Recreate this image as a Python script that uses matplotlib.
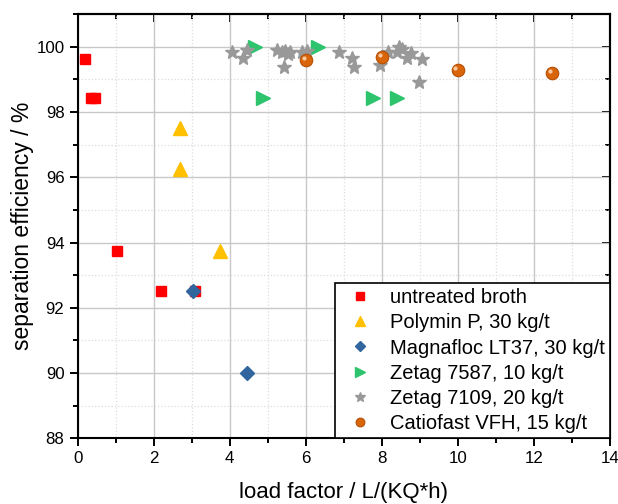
import matplotlib
matplotlib.use("Agg")
import matplotlib.pyplot as plt
from matplotlib.ticker import MultipleLocator
from matplotlib import transforms

plt.rcParams['font.family'] = ['Liberation Sans', 'DejaVu Sans']

# data
broth_x = [0.18, 0.35, 0.46, 1.03, 2.19, 3.09]
broth_y = [99.63, 98.44, 98.44, 93.73, 92.5, 92.5]

polymin_x = [2.69, 2.69, 3.74]
polymin_y = [97.52, 96.26, 93.75]

magna_x = [3.03, 4.45]
magna_y = [92.5, 90.0]

z7587_x = [4.67, 4.88, 6.32, 7.77, 8.40]
z7587_y = [100.0, 98.44, 100.0, 98.44, 98.44]

z7109_x = [4.05, 4.34, 4.45, 5.24, 5.37, 5.45, 5.54, 5.43, 5.59, 5.89, 6.03,
           6.88, 7.21, 7.27, 7.96, 8.17, 8.46, 8.53, 8.39, 8.66, 8.76, 9.05, 8.99]
z7109_y = [99.83, 99.67, 99.9, 99.9, 99.83, 99.86, 99.78, 99.37, 99.83, 99.83, 99.86,
           99.83, 99.67, 99.37, 99.44, 99.83, 100.0, 99.93, 99.83, 99.67, 99.81, 99.62, 98.93]

catio_x = [6.01, 8.0, 9.99, 12.47]
catio_y = [99.59, 99.69, 99.29, 99.18]

fig = plt.figure(figsize=(6.18, 5.04), dpi=100)
ax = fig.add_axes([0.1257, 0.1304, 0.8613, 0.8416])

ax.plot(broth_x, broth_y, 's', color='#ff0000', ms=7.5, mec='#ff0000', ls='none',
        label='untreated broth', zorder=3)
ax.plot(polymin_x, polymin_y, '^', color='#ffc000', ms=10, mec='#ffc000', ls='none',
        label='Polymin P, 30 kg/t', zorder=3)
ax.plot(magna_x, magna_y, 'D', color='#30659e', ms=7.5, mec='#30659e', ls='none',
        label='Magnafloc LT37, 30 kg/t', zorder=4)
ax.plot(z7587_x, z7587_y, '>', color='#2ec46e', ms=10, mec='#2ec46e', ls='none',
        label='Zetag 7587, 10 kg/t', zorder=3)
ax.plot(z7109_x, z7109_y, '*', color='#999999', ms=10, mec='#999999', ls='none',
        label='Zetag 7109, 20 kg/t', zorder=3)
ax.plot(catio_x, catio_y, 'o', color='#d9650a', ms=9, mec='#b54f05', mew=0.8, ls='none',
        label='Catiofast VFH, 15 kg/t', zorder=3)
# highlight on the spheres
hl = transforms.offset_copy(ax.transData, fig=fig, x=-1.5, y=1.5, units='points')
ax.plot(catio_x, catio_y, 'o', color='#f7c9a0', ms=3, mec='none', ls='none',
        transform=hl, zorder=4)

ax.set_xlim(0, 14)
ax.set_ylim(88, 101)
ax.xaxis.set_major_locator(MultipleLocator(2))
ax.xaxis.set_minor_locator(MultipleLocator(1))
ax.yaxis.set_major_locator(MultipleLocator(2))
ax.yaxis.set_minor_locator(MultipleLocator(1))

ax.grid(which='major', color='#c8c8c8', lw=1.0, ls='-', zorder=0)
ax.grid(which='minor', color='#dddddd', lw=0.9, ls=':', zorder=0)
ax.set_axisbelow(True)

for s in ax.spines.values():
    s.set_linewidth(1.5)
    s.set_color('black')

ax.tick_params(which='both', direction='out', width=1.4, labelsize=12.2,
               top=False, right=False)
ax.tick_params(which='major', length=6)
ax.tick_params(which='minor', length=3.5)
# mirrored inward ticks on top and right
ax2 = ax.secondary_xaxis('top')
ax2.xaxis.set_major_locator(MultipleLocator(2))
ax2.xaxis.set_minor_locator(MultipleLocator(1))
ax2.tick_params(which='both', direction='in', width=1.4, labeltop=False)
ax2.tick_params(which='major', length=6)
ax2.tick_params(which='minor', length=3.5)
ax3 = ax.secondary_yaxis('right')
ax3.yaxis.set_major_locator(MultipleLocator(2))
ax3.yaxis.set_minor_locator(MultipleLocator(1))
ax3.tick_params(which='both', direction='in', width=1.4, labelright=False)
ax3.tick_params(which='major', length=6)
ax3.tick_params(which='minor', length=3.5)
for a in (ax2, ax3):
    for s in a.spines.values():
        s.set_linewidth(1.5)

ax.set_xlabel('load factor / L/(KQ*h)', fontsize=16, labelpad=11)
ax.set_ylabel('separation efficiency / %', fontsize=16.5, labelpad=2)

leg = ax.legend(loc='lower right', fontsize=14.5, frameon=True, fancybox=False,
                edgecolor='black', framealpha=1, markerscale=0.7,
                borderaxespad=0, handletextpad=0.5, labelspacing=0.31,
                borderpad=0.25, handlelength=2.0)
leg.get_frame().set_linewidth(1.2)

fig.savefig('out.png', dpi=100)
